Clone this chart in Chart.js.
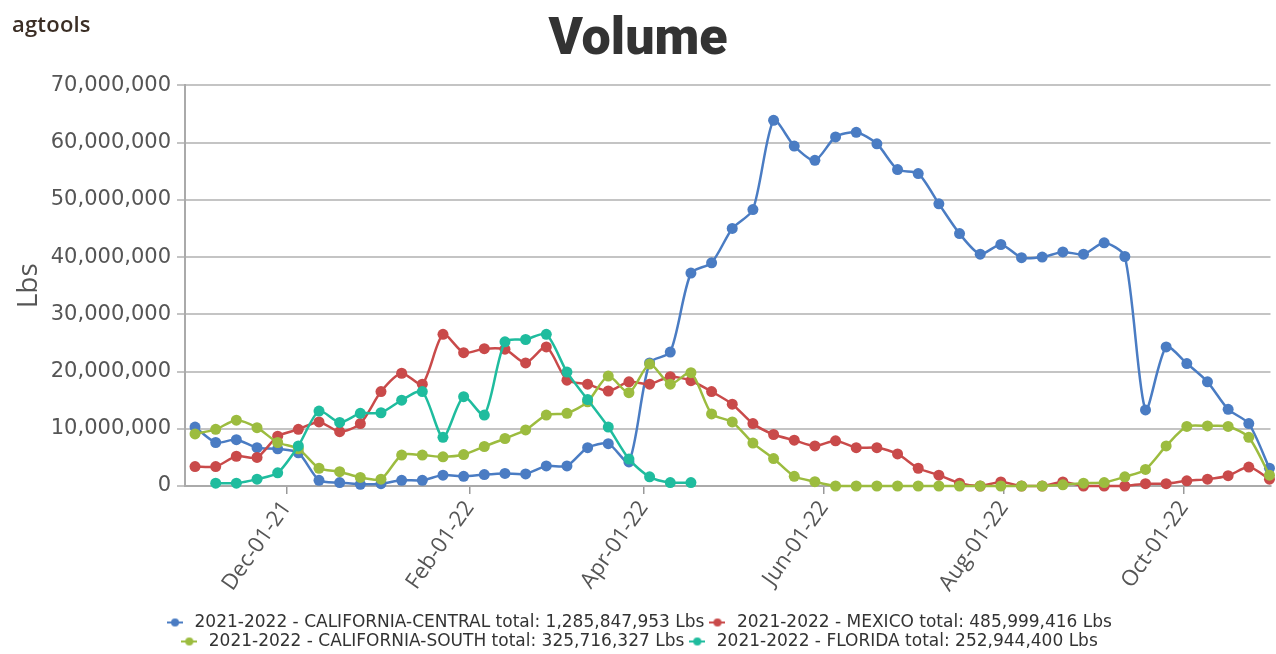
<!DOCTYPE html>
<html>
<head>
<meta charset="utf-8">
<script src="https://cdn.jsdelivr.net/npm/chart.js@4.4.1/dist/chart.umd.min.js"></script>
<style>
  html, body { margin: 0; padding: 0; background: #fff; }
  #wrap { position: relative; width: 1276px; height: 654px; }
  #logo { position: absolute; left: 12px; top: 8px; font: 600 22px 'Open Sans', sans-serif; color: #3b2e25; letter-spacing: 0.2px; }
  canvas { position: absolute; left: 0; top: 0; }
</style>
</head>
<body>
<div id="wrap">
  <canvas id="c" width="1276" height="654"></canvas>
  <div id="logo">agtools</div>
</div>
<script>
// ---- data ----
const weeks = [
  '2021-10-31','2021-11-07','2021-11-14','2021-11-21','2021-11-28','2021-12-05','2021-12-12','2021-12-19','2021-12-26',
  '2022-01-02','2022-01-09','2022-01-16','2022-01-23','2022-01-30','2022-02-06','2022-02-13','2022-02-20','2022-02-27',
  '2022-03-06','2022-03-13','2022-03-20','2022-03-27','2022-04-03','2022-04-10','2022-04-17','2022-04-24','2022-05-01',
  '2022-05-08','2022-05-15','2022-05-22','2022-05-29','2022-06-05','2022-06-12','2022-06-19','2022-06-26','2022-07-03',
  '2022-07-10','2022-07-17','2022-07-24','2022-07-31','2022-08-07','2022-08-14','2022-08-21','2022-08-28','2022-09-04',
  '2022-09-11','2022-09-18','2022-09-25','2022-10-02','2022-10-09','2022-10-16','2022-10-23','2022-10-30'
];

const californiaCentral = [
  10.3e6, 7.6e6, 8.1e6, 6.7e6, 6.5e6, 5.8e6, 1.0e6, 0.6e6, 0.3e6, 0.4e6, 1.0e6, 1.0e6, 1.9e6, 1.7e6, 2.0e6, 2.2e6, 2.1e6, 3.5e6,
  3.5e6, 6.7e6, 7.4e6, 4.2e6, 21.5e6, 23.4e6, 37.2e6, 39.0e6, 45.0e6, 48.3e6, 63.9e6, 59.4e6, 56.9e6, 61.0e6, 61.8e6, 59.8e6,
  55.3e6, 54.6e6, 49.3e6, 44.1e6, 40.5e6, 42.2e6, 39.9e6, 40.0e6, 40.9e6, 40.5e6, 42.5e6, 40.1e6, 13.3e6, 24.3e6, 21.4e6,
  18.2e6, 13.4e6, 10.9e6, 3.1e6
];
const mexico = [
  3.4e6, 3.4e6, 5.2e6, 5.0e6, 8.7e6, 9.9e6, 11.2e6, 9.5e6, 10.9e6, 16.5e6, 19.7e6, 17.8e6, 26.5e6, 23.3e6, 24.0e6, 23.9e6, 21.5e6,
  24.3e6, 18.5e6, 17.8e6, 16.6e6, 18.2e6, 17.8e6, 19.1e6, 18.4e6, 16.5e6, 14.3e6, 10.9e6, 9.0e6, 8.0e6, 7.0e6, 7.9e6, 6.7e6,
  6.7e6, 5.6e6, 3.1e6, 1.9e6, 0.5e6, 0, 0.7e6, 0, 0, 0.7e6, 0, 0, 0, 0.4e6, 0.4e6, 0.9e6, 1.2e6, 1.8e6, 3.3e6, 1.2e6
];
const californiaSouth = [
  9.1e6, 9.9e6, 11.5e6, 10.2e6, 7.6e6, 6.5e6, 3.1e6, 2.5e6, 1.5e6, 1.2e6, 5.4e6, 5.4e6, 5.1e6, 5.5e6, 6.9e6, 8.3e6, 9.8e6,
  12.4e6, 12.7e6, 14.7e6, 19.2e6, 16.3e6, 21.3e6, 17.8e6, 19.8e6, 12.6e6, 11.2e6, 7.5e6, 4.8e6, 1.7e6, 0.75e6, 0, 0, 0, 0, 0,
  0, 0, 0, 0, 0, 0, 0.2e6, 0.5e6, 0.6e6, 1.6e6, 2.9e6, 7.0e6, 10.4e6, 10.5e6, 10.4e6, 8.5e6, 1.9e6
];
const florida = [
  null, 0.5e6, 0.5e6, 1.2e6, 2.3e6, 7.0e6, 13.1e6, 11.1e6, 12.7e6, 12.8e6, 15.0e6, 16.5e6, 8.5e6, 15.6e6, 12.4e6, 25.2e6,
  25.6e6, 26.5e6, 19.9e6, 15.1e6, 10.3e6, 4.7e6, 1.6e6, 0.6e6, 0.6e6, null, null, null, null, null, null, null, null, null,
  null, null, null, null, null, null, null, null, null, null, null, null, null, null, null, null, null, null, null
];

const seriesNames = ['CALIFORNIA-CENTRAL', 'MEXICO', 'CALIFORNIA-SOUTH', 'FLORIDA'];
const seriesTotals = ['1,285,847,953', '485,999,416', '325,716,327', '252,944,400'];
const season = '2021-2022';
const seriesColors = ['#4a7cc3', '#c94a4a', '#9cbc3f', '#1fbc9e'];

const tickDates = ['2021-12-01', '2022-02-01', '2022-04-01', '2022-06-01', '2022-08-01', '2022-10-01'];
const tickLabels = ['Dec-01-21', 'Feb-01-22', 'Apr-01-22', 'Jun-01-22', 'Aug-01-22', 'Oct-01-22'];
const yTicks = [0, 10e6, 20e6, 30e6, 40e6, 50e6, 60e6, 70e6];

// ---- build ----
const DAY = 86400000;
const toDay = s => Date.parse(s + 'T00:00:00Z') / DAY;
const weekDays = weeks.map(toDay);
const tickDays = tickDates.map(toDay);

const seriesValues = [californiaCentral, mexico, californiaSouth, florida];

function symbol(color) {
  const c = document.createElement('canvas');
  c.width = 16; c.height = 10;
  const g = c.getContext('2d');
  g.strokeStyle = color; g.lineWidth = 2;
  g.beginPath(); g.moveTo(0, 5); g.lineTo(16, 5); g.stroke();
  g.fillStyle = color;
  g.beginPath(); g.arc(8, 5, 4, 0, Math.PI * 2); g.fill();
  return c;
}
const symbols = seriesColors.map(symbol);

const datasets = seriesValues.map((vals, i) => ({
  label: `${season} - ${seriesNames[i]} total: ${seriesTotals[i]} Lbs`,
  data: vals.map((v, k) => ({ x: weekDays[k], y: v })),
  borderColor: seriesColors[i],
  backgroundColor: seriesColors[i],
  pointBackgroundColor: seriesColors[i],
  pointBorderColor: seriesColors[i],
  pointBorderWidth: 0,
  pointRadius: 5.5,
  borderWidth: 2.5,
  tension: 0.25,
  spanGaps: false,
  clip: false,
  order: seriesValues.length - i
}));

new Chart(document.getElementById('c'), {
  type: 'line',
  data: { datasets },
  options: {
    responsive: false,
    animation: false,
    events: [],
    layout: { padding: { left: 0, right: 0, top: 0, bottom: -6 } },
    plugins: {
      title: {
        display: true, text: 'Volume', color: '#333',
        font: { family: "'Liberation Sans Narrow', 'Roboto', sans-serif", size: 52, weight: '900' },
        padding: { top: 10, bottom: 13 }
      },
      legend: {
        position: 'bottom',
        labels: {
          usePointStyle: true, pointStyleWidth: 22, padding: 2,
          color: '#333', font: { family: 'DejaVu Sans', size: 17 },
          sort: (a, b) => a.datasetIndex - b.datasetIndex,
          generateLabels: chart => Chart.defaults.plugins.legend.labels.generateLabels(chart)
            .map(it => Object.assign(it, { pointStyle: symbols[it.datasetIndex] }))
        }
      },
      tooltip: { enabled: false }
    },
    scales: {
      x: {
        type: 'linear',
        min: weekDays[0] - 3.4,
        max: weekDays[weekDays.length - 1] + 0.35,
        afterBuildTicks: s => { s.ticks = tickDays.map(v => ({ value: v })); },
        afterFit: s => { s.height = 126; },
        ticks: {
          autoSkip: false, minRotation: 55, maxRotation: 55, padding: 2,
          color: '#555', font: { family: 'Open Sans', size: 22 },
          callback: (v, i) => tickLabels[i]
        },
        grid: { drawOnChartArea: false, drawTicks: true, tickLength: 8, color: '#999', lineWidth: 1.5 },
        border: { color: '#aaa', width: 2 }
      },
      y: {
        min: 0, max: 70e6,
        afterBuildTicks: s => { s.ticks = yTicks.map(v => ({ value: v })); },
        afterFit: s => { s.width = 185; },
        ticks: {
          color: '#555', padding: 6, font: { family: 'DejaVu Sans', size: 21 },
          callback: v => v.toLocaleString('en-US')
        },
        grid: { color: '#c4c4c4', lineWidth: 2, tickLength: 8 },
        border: { color: '#aaa', width: 2 },
        title: {
          display: true, text: 'Lbs', color: '#555',
          font: { family: 'Open Sans', size: 28 },
          padding: { top: 12, bottom: 0 }
        }
      }
    }
  }
});
</script>
</body>
</html>
